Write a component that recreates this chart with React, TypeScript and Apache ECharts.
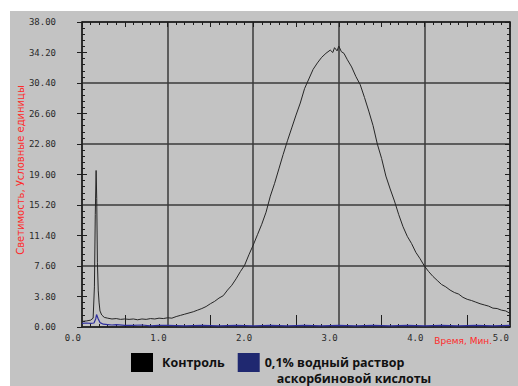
import React, { useEffect, useRef } from 'react';
import * as echarts from 'echarts';

const seriesNames = ['Контроль', '0,1% водный раствор аскорбиновой кислоты'];
const acidLegendLines = ['0,1% водный раствор', 'аскорбиновой кислоты'];
const xAxisTitle = 'Время, Мин.';
const yAxisTitle = 'Светимость, Условные единицы';

const xMax = 5;
const xLabelStep = 1;
const xTickStep = 0.5;
const xCrossTicks = [0.5, 1.5, 2.5, 3.5, 4.5];
const yMax = 38;
const yLabelStep = 3.8;
const yGridStep = 7.6;
const yInnerTicks = [3.8, 11.4, 19, 26.6, 34.2];

const controlTime = [
  0.0, 0.05, 0.1, 0.13, 0.145, 0.155, 0.165, 0.172, 0.18, 0.19, 0.2, 0.21, 0.23, 0.26, 0.3,
  0.35, 0.4, 0.45, 0.5, 0.55, 0.6, 0.65, 0.7, 0.75, 0.8, 0.85, 0.9, 0.95, 1.0, 1.05, 1.1,
  1.15, 1.2, 1.25, 1.3, 1.35, 1.4, 1.45, 1.5, 1.55, 1.6, 1.65, 1.7, 1.75, 1.8, 1.85, 1.9,
  1.95, 2.0, 2.05, 2.1, 2.15, 2.2, 2.25, 2.3, 2.35, 2.4, 2.45, 2.5, 2.55, 2.6, 2.65, 2.7,
  2.75, 2.8, 2.85, 2.9, 2.93, 2.95, 2.98, 3.0, 3.03, 3.06, 3.1, 3.15, 3.2, 3.25, 3.3, 3.35,
  3.4, 3.45, 3.5, 3.55, 3.6, 3.65, 3.7, 3.75, 3.8, 3.85, 3.9, 3.95, 4.0, 4.05, 4.1, 4.15,
  4.2, 4.25, 4.3, 4.35, 4.4, 4.45, 4.5, 4.55, 4.6, 4.65, 4.7, 4.75, 4.8, 4.85, 4.9, 4.95, 5.0,
];
const controlValue = [
  0.7, 0.75, 0.85, 1.1, 5, 14, 19.5, 16, 8, 4.5, 3.0, 2.0, 1.5, 1.2, 1.1,
  1.0, 1.05, 0.95, 1.0, 0.95, 1.0, 0.9, 1.0, 0.95, 1.05, 1.0, 1.1, 1.05, 1.15, 1.1, 1.3,
  1.45, 1.6, 1.75, 1.9, 2.1, 2.3, 2.55, 2.9, 3.2, 3.6, 3.9, 4.6, 5.2, 6.0, 6.9, 7.7,
  9.0, 10.2, 11.5, 12.8, 14.3, 16.3, 17.9, 19.7, 21.5, 23.2, 24.8, 26.4, 27.9, 29.7, 30.9, 32.1,
  32.9, 33.6, 34.1, 34.5, 34.2, 34.8, 34.4, 35.0, 34.3, 34.1, 33.3, 32.4, 31.2, 30.2, 28.6, 26.9,
  25.1, 22.8, 21.0, 18.8, 17.2, 15.7, 14.0, 12.5, 11.3, 10.4, 9.3, 8.5, 7.6, 6.9, 6.3, 5.8,
  5.3, 5.0, 4.6, 4.3, 4.1, 3.7, 3.45, 3.3, 3.1, 2.9, 2.75, 2.6, 2.35, 2.3, 2.1, 2.0, 1.7,
];

const acidTime = [
  0.0, 0.05, 0.1, 0.14, 0.16, 0.17, 0.19, 0.21, 0.25, 0.3, 0.35, 0.4, 0.5, 0.6, 0.7, 0.8,
  0.9, 1.0, 1.2, 1.4, 1.6, 1.8, 2.0, 2.2, 2.4, 2.6, 2.8, 3.0, 3.2, 3.4, 3.6, 3.8, 4.0,
  4.2, 4.4, 4.6, 4.8, 5.0,
];
const acidValue = [
  0.45, 0.5, 0.45, 0.5, 1.0, 1.55, 1.0, 0.55, 0.35, 0.3, 0.25, 0.3, 0.2, 0.2, 0.25, 0.15,
  0.2, 0.2, 0.15, 0.2, 0.15, 0.2, 0.15, 0.2, 0.15, 0.2, 0.15, 0.2, 0.15, 0.2, 0.15, 0.2, 0.15,
  0.2, 0.15, 0.2, 0.15, 0.2,
];

export default function App() {
  const ref = useRef<HTMLDivElement>(null);
  useEffect(() => {
    const chart = echarts.init(ref.current!, null, { renderer: 'svg' });
    const pairs = (ts: number[], vs: number[]) => ts.map((t, i) => [t, vs[i]]);
    const frame = '#1e1e1e';
    const gridColor = '#3a3a3a';
    const labelFont = { fontFamily: 'DejaVu Sans Mono', fontSize: 9, color: '#2a2a2a' };
    const hidden = {
      axisLine: { show: false },
      axisLabel: { show: false },
      axisTick: { show: false },
      splitLine: { show: false },
    };
    const frameLine = { show: true, onZero: false, lineStyle: { color: frame, width: 1.5 } };
    const tickLine = { color: frame, width: 1 };
    const legendFont = { fontFamily: 'Open Sans', fontWeight: 'bold' as const, fontSize: 12.5, color: '#111111' };
    const lh = 15.5;

    chart.setOption({
      animation: false,
      backgroundColor: '#ffffff',
      graphic: {
        elements: [
          {
            type: 'rect',
            z: -10,
            silent: true,
            shape: { x: 10, y: 11, width: 508, height: 375 },
            style: { fill: '#c3c3c3' },
          },
        ],
      },
      grid: { left: 82, top: 22, right: 8, bottom: 59, containLabel: false, outerBoundsMode: 'none' },
      legend: {
        left: 131,
        top: 353 - (lh * 1.5 - 9.5),
        padding: 0,
        orient: 'horizontal',
        icon: 'rect',
        itemWidth: 22,
        itemHeight: 19,
        itemGap: 13,
        textStyle: { ...legendFont },
        data: [
          { name: seriesNames[0], itemStyle: { color: '#000000' }, textStyle: { ...legendFont, padding: [0, 0, 0, 4] } },
          {
            name: seriesNames[1],
            itemStyle: { color: '#1f2870' },
            textStyle: {
              ...legendFont,
              lineHeight: lh,
              padding: [lh, 0, 0, 0],
              rich: {
                a: { ...legendFont, lineHeight: lh },
                b: { ...legendFont, lineHeight: lh, padding: [0, 0, 0, 12] },
              },
            },
          },
        ],
        formatter: (name: string) =>
          name === seriesNames[1] ? `{a|${acidLegendLines[0]}}\n{b|${acidLegendLines[1]}}` : name,
      },
      xAxis: [
        {
          type: 'value',
          position: 'bottom',
          min: 0,
          max: xMax,
          interval: xLabelStep,
          axisLine: frameLine,
          axisTick: { show: false, inside: true },
          minorTick: { show: true, splitNumber: 10, length: 3, lineStyle: tickLine },
          axisLabel: {
            ...labelFont,
            margin: 6,
            align: 'right',
            padding: [0, 1, 0, 0],
            formatter: (v: number) => v.toFixed(1),
          },
          splitLine: { show: true, lineStyle: { color: gridColor, width: 1.5 } },
          name: xAxisTitle,
          nameLocation: 'end',
          nameGap: 0,
          nameMoveOverlap: false,
          nameTextStyle: {
            color: '#ff2a2a',
            fontFamily: 'DejaVu Sans',
            fontSize: 9,
            align: 'right',
            verticalAlign: 'top',
            padding: [9, 18, 0, 0],
          },
        },
        {
          type: 'value',
          position: 'bottom',
          offset: 6,
          min: 0,
          max: xMax,
          interval: xTickStep,
          ...hidden,
          axisTick: { show: true, inside: true, length: 12, customValues: xCrossTicks, lineStyle: tickLine },
        },
        {
          type: 'value',
          position: 'top',
          min: 0,
          max: xMax,
          interval: xTickStep,
          ...hidden,
          axisLine: frameLine,
          axisTick: { show: true, inside: true, length: 5, lineStyle: tickLine },
          minorTick: { show: true, splitNumber: 5, length: 3, lineStyle: tickLine },
        },
      ],
      yAxis: [
        {
          type: 'value',
          position: 'left',
          min: 0,
          max: yMax,
          interval: yLabelStep,
          axisLine: frameLine,
          axisTick: { show: true, length: 5, lineStyle: tickLine },
          axisLabel: {
            ...labelFont,
            margin: 26,
            padding: [0, 0, 10, 0],
            formatter: (v: number) => v.toFixed(2),
          },
          splitLine: { show: false },
          name: yAxisTitle,
          nameLocation: 'middle',
          nameGap: 57,
          nameMoveOverlap: false,
          nameTextStyle: {
            color: '#ff2a2a',
            fontFamily: 'DejaVu Sans',
            fontSize: 10,
            padding: [0, 0, 0, 9],
          },
        },
        {
          type: 'value',
          position: 'left',
          min: 0,
          max: yMax,
          interval: yLabelStep,
          ...hidden,
          axisTick: { show: true, inside: true, length: 5, customValues: yInnerTicks, lineStyle: tickLine },
          minorTick: { show: true, splitNumber: 5, length: 3, lineStyle: tickLine },
        },
        {
          type: 'value',
          position: 'right',
          min: 0,
          max: yMax,
          interval: yLabelStep,
          ...hidden,
          axisLine: frameLine,
          axisTick: { show: true, inside: true, length: 5, lineStyle: tickLine },
          minorTick: { show: true, splitNumber: 5, length: 3, lineStyle: tickLine },
        },
        {
          type: 'value',
          position: 'left',
          min: 0,
          max: yMax,
          interval: yGridStep,
          ...hidden,
          splitLine: { show: true, lineStyle: { color: gridColor, width: 1.5 } },
        },
      ],
      series: [
        {
          name: seriesNames[0],
          type: 'line',
          xAxisIndex: 0,
          yAxisIndex: 0,
          data: pairs(controlTime, controlValue),
          showSymbol: false,
          symbol: 'none',
          itemStyle: { color: '#000000' },
          lineStyle: { color: '#262626', width: 1 },
          z: 3,
        },
        {
          name: seriesNames[1],
          type: 'line',
          xAxisIndex: 0,
          yAxisIndex: 0,
          data: pairs(acidTime, acidValue),
          showSymbol: false,
          symbol: 'none',
          itemStyle: { color: '#1f2870' },
          lineStyle: { color: '#2e2e9e', width: 1.2 },
          z: 4,
        },
      ],
    });
    return () => chart.dispose();
  }, []);
  return <div ref={ref} style={{ position: 'absolute', left: 0, top: 0, width: 518, height: 386 }} />;
}
